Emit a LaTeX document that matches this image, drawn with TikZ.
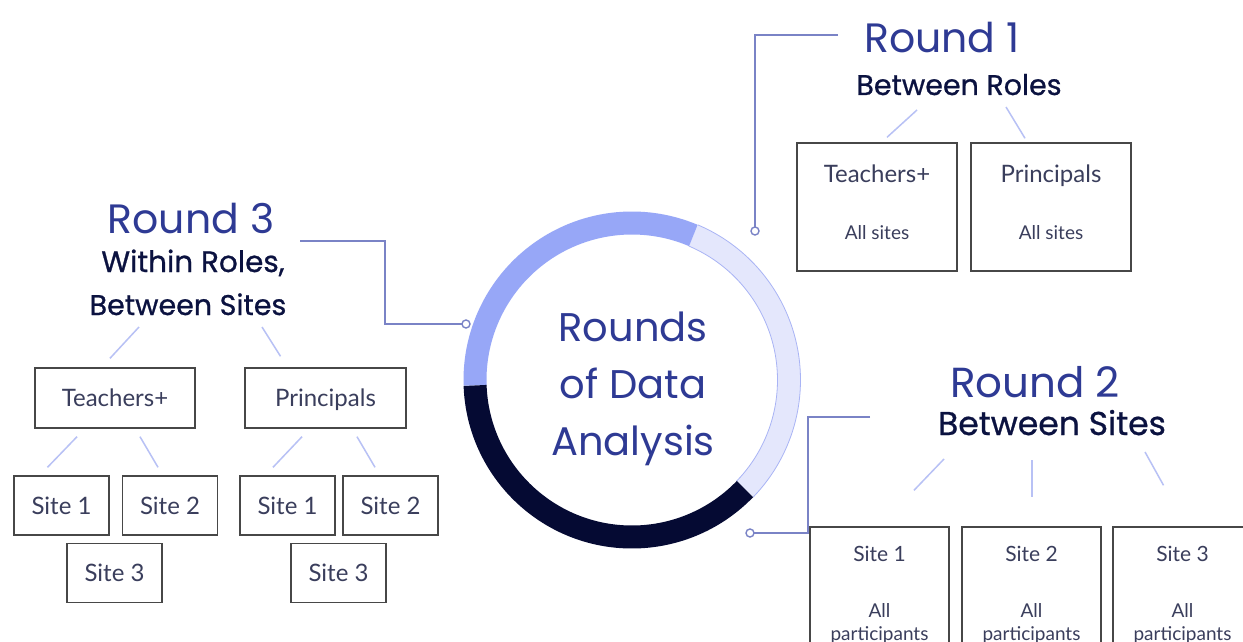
\documentclass[tikz,border=0pt]{standalone}
\usepackage{fontspec}
\setmainfont{Lato}
\newfontfamily\headfont{Poppins}
\newfontfamily\subfont[FakeBold=0.8]{Poppins}
\usetikzlibrary{calc}

\definecolor{roundblue}{HTML}{2E3A94}
\definecolor{subnavy}{HTML}{0B1240}
\definecolor{linkblue}{HTML}{7A83C6}
\definecolor{twigblue}{HTML}{B8C1F5}
\definecolor{ringlight}{HTML}{97A7F7}
\definecolor{ringpale}{HTML}{E4E7FC}
\definecolor{ringedge}{HTML}{A9B4F5}
\definecolor{ringdark}{HTML}{050A33}
\definecolor{boxtext}{HTML}{3A3E5C}

\begin{document}
\begin{tikzpicture}[x=1pt, y=-1pt,
    roundtitle/.style={anchor=base, inner sep=0pt, text=roundblue, font=\headfont\fontsize{41}{41}\selectfont},
    roundsub/.style={anchor=base, inner sep=0pt, text=subnavy, font=\subfont\fontsize{28.5}{28.5}\selectfont},
    box/.style={draw=black!72, line width=1.4pt, inner sep=0pt, text=boxtext,
        font=\fontsize{24}{24}\selectfont, text height=17pt, text depth=0pt},
    rolebox/.style={box, minimum width=160pt, minimum height=60pt},
    sitebox/.style={box, minimum width=95pt, minimum height=59pt},
    boxlabel/.style={anchor=base, inner sep=0pt, text=boxtext, font=\fontsize{24}{24}\selectfont},
    boxnote/.style={boxlabel, font=\fontsize{19}{19}\selectfont},
    link/.style={draw=linkblue, line width=1.8pt},
    twig/.style={draw=twigblue, line width=1.5pt}]

    \useasboundingbox (0, 0) rectangle (1243, 642);
    \clip (0, 0) rectangle (1243, 642);
    \fill[white] (0, 0) rectangle (1243, 642);

    % ring in three parts
    \coordinate (ring) at (632, 380);
    \draw[ringpale, line width=23pt] (ring) ++(44:157) arc[start angle=44, end angle=-67, radius=157];
    \draw[ringedge, line width=0.8pt] (ring) ++(44:168.5) arc[start angle=44, end angle=-67, radius=168.5];
    \draw[ringedge, line width=0.8pt] (ring) ++(44:145.5) arc[start angle=44, end angle=-67, radius=145.5];
    \draw[ringlight, line width=23pt] (ring) ++(-67:157) arc[start angle=-67, end angle=-182, radius=157];
    \draw[ringdark, line width=23pt] (ring) ++(-182:157) arc[start angle=-182, end angle=-316, radius=157];

    \node[align=center, text=roundblue, font=\headfont\fontsize{40}{57}\selectfont] (hub) at (633, 389)
        {Rounds\\of Data\\Analysis};

    % headings
    \node[roundtitle] (r1) at (942, 53) {Round 1};
    \node[roundsub] (b1) at (959, 95) {Between Roles};
    \node[roundtitle] (r3) at (191, 233) {Round 3};
    \node[roundsub, font=\subfont\fontsize{29.5}{29.5}\selectfont] (w3) at (193, 272) {Within Roles,};
    \node[roundsub] (b3) at (188, 315) {Between Sites};
    \node[roundtitle, font=\headfont\fontsize{42}{42}\selectfont] (r2) at (1035, 397) {Round 2};
    \node[roundsub, font=\subfont\fontsize{33}{33}\selectfont] (b2) at (1052, 435) {Between Sites};

    % leader lines out to the ring
    \coordinate (r1tail) at (838, 35);
    \coordinate (dot1) at (755, 231);
    \coordinate (r3tail) at (300, 241);
    \coordinate (dot3) at (466, 324);
    \coordinate (r2tail) at (870, 417);
    \coordinate (dot2) at (750, 533);
    \draw[link] (r1tail) -| (dot1);
    \draw[link] (r3tail) -- ++(85, 0) |- (dot3);
    \draw[link] (r2tail) -- ++(-62, 0) |- (dot2);
    \foreach \d in {dot1, dot2, dot3}
        \draw[link, line width=1.4pt, fill=white] (\d) circle[radius=4];

    % round 1
    \node[box, minimum width=160pt, minimum height=128pt] (t1) at (877, 207) {};
    \node[boxlabel] (t1a) at ($(t1.north)+(0, 40)$) {Teachers+};
    \node[boxnote] (t1b) at ($(t1.north)+(0, 97)$) {All sites};
    \node[box, minimum width=160pt, minimum height=128pt] (p1) at (1051, 207) {};
    \node[boxlabel] (p1a) at ($(p1.north)+(0, 40)$) {Principals};
    \node[boxnote] (p1b) at ($(p1.north)+(0, 97)$) {All sites};
    \draw[twig] ($(b1.base)+(-42, 15)$) -- ($(t1.north)+(10, -5)$);
    \draw[twig] ($(b1.base)+(47, 12)$) -- ($(p1.north)+(-26, -4)$);

    % round 3
    \node[rolebox] (t3) at (115, 398) {Teachers+};
    \node[rolebox, minimum width=161pt] (p3) at (325.5, 398) {Principals};
    \node[sitebox] (sa1) at (61.5, 505.5) {Site 1};
    \node[sitebox] (sa2) at (170, 505.5) {Site 2};
    \node[sitebox] (sa3) at (114.5, 573) {Site 3};
    \node[sitebox] (sb1) at (287.5, 505.5) {Site 1};
    \node[sitebox] (sb2) at (390.5, 505.5) {Site 2};
    \node[sitebox] (sb3) at (338.5, 573) {Site 3};
    \draw[twig] ($(b3.base)+(-49, 12)$) -- ($(t3.north)+(-5, -9)$);
    \draw[twig] ($(b3.base)+(74, 12)$) -- ($(p3.north)+(-45, -11)$);
    \draw[twig] ($(t3.south)+(-38, 8)$) -- ($(sa1.north)+(-14, -8)$);
    \draw[twig] ($(t3.south)+(25, 8)$) -- ($(sa2.north)+(-12, -8)$);
    \draw[twig] ($(p3.south)+(-23.5, 8)$) -- ($(sb1.north)+(-14.5, -8)$);
    \draw[twig] ($(p3.south)+(31.5, 8)$) -- ($(sb2.north)+(-15.5, -8)$);

    % round 2
    \foreach \n/\x/\s in {c1/879.5/1, c2/1031.5/2, c3/1182.5/3} {
        \node[box, minimum width=139pt, minimum height=140pt] (\n) at (\x, 597) {};
        \node[boxlabel, font=\fontsize{21}{21}\selectfont] (\n a) at ($(\n.north)+(0, 35)$) {Site \s};
        \node[boxnote] (\n b) at ($(\n.north)+(0, 91)$) {All};
        \node[boxnote] (\n c) at ($(\n.north)+(0, 114)$) {participants};
    }
    \draw[twig] ($(b2.base)+(-108, 24)$) -- ($(c1.north)+(34.5, -36)$);
    \draw[twig] ($(b2.base)+(-20, 25)$) -- ($(c2.north)+(0.5, -29)$);
    \draw[twig] ($(b2.base)+(93, 17)$) -- ($(c3.north)+(-19, -41)$);
\end{tikzpicture}
\end{document}
